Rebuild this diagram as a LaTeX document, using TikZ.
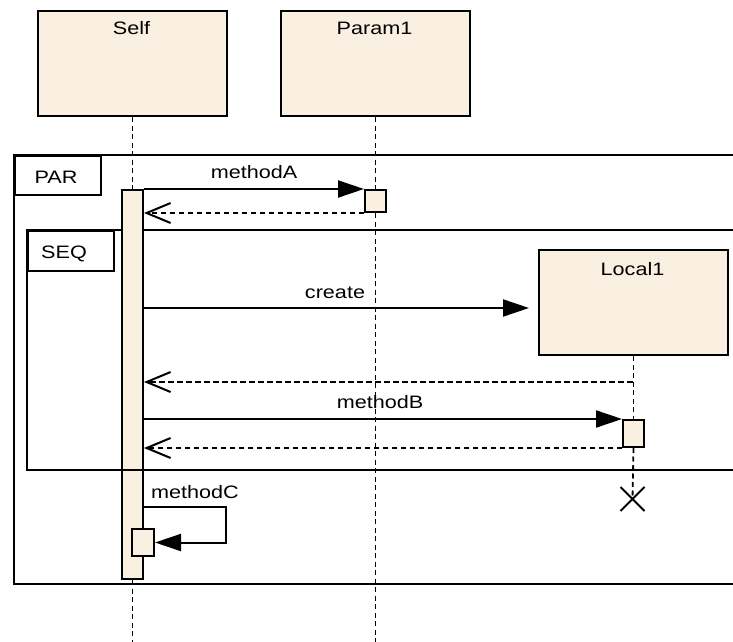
\documentclass[tikz,border=0pt]{standalone}
\usepackage{fontspec}
\newfontfamily\umlfont[FakeStretch=1.2]{Liberation Sans}
\usetikzlibrary{arrows.meta,shapes.misc,calc}
\definecolor{lifefill}{RGB}{250,240,226}
\tikzset{
  obj/.style={draw, fill=lifefill, line width=2pt, inner sep=0pt, anchor=north west,
              minimum width=189pt, minimum height=105pt},
  act/.style={draw, fill=lifefill, line width=2pt, inner sep=0pt, anchor=north west},
  fragment/.style={draw, line width=2pt, inner sep=0pt, outer sep=0pt, anchor=north west},
  fragtab/.style={draw, fill=white, line width=2pt, inner sep=0pt, anchor=north west,
                  minimum width=86pt, minimum height=40pt},
  lbl/.style={font=\umlfont\fontsize{18}{22}\selectfont, inner sep=0pt, anchor=base},
  lifeline/.style={line width=1.8pt, dash pattern=on 5pt off 3.5pt},
  call/.style={line width=2pt, -{Triangle[length=26pt,width=17pt]}},
  reply/.style={line width=2pt, dash pattern=on 5.5pt off 3.5pt,
                -{Straight Barb[length=24pt,width=20pt,line width=2pt]}},
}
\begin{document}
\begin{tikzpicture}[x=1pt,y=-1pt]
\clip (0,0) rectangle (733,642);

% combined fragments
\node[fragment, minimum width=800pt, minimum height=429pt] (par) at (14,155) {};
\node[fragtab, minimum height=39pt] (partab) at (14,155) {};
\node[lbl] (parlbl) at (56,183) {PAR};
\node[fragment, minimum width=800pt, minimum height=240pt] (seq) at (27,230) {};
\node[fragtab] (seqtab) at (27,230) {};
\node[lbl] (seqlbl) at (64,258) {SEQ};

% lifeline heads
\node[obj] (self) at (37,10) {};
\node[lbl] (selflbl) at (131.5,35) {Self};
\node[obj] (param) at (280,10) {};
\node[lbl] (paramlbl) at (374.5,35) {Param1};
\node[obj] (local) at (538,249) {};
\node[lbl] (locallbl) at (632.5,275) {Local1};

% execution occurrences
\node[act, minimum width=21pt, minimum height=389pt] (selfAct) at (121,189) {};
\node[act, minimum width=21pt, minimum height=22pt] (p1Act) at (364,189) {};
\node[act, minimum width=21pt, minimum height=27pt] (l1Act) at (622,419) {};

% destruction of Local1
\node[cross out, draw, line width=2pt, minimum size=22pt, inner sep=0pt] (destroy) at (632.5,499) {};

% lifelines
\draw[lifeline] (self.south) -- (selfAct.north);
\draw[lifeline] (selfAct.south) -- (selfAct.south |- 0,642);
\draw[lifeline] (param.south) -- (p1Act.north);
\draw[lifeline] (p1Act.south) -- (p1Act.south |- 0,642);
\draw[lifeline] (local.south) -- (l1Act.north);
\draw[lifeline] (l1Act.south) -- (destroy.center);

% activation bar of Self drawn over the lifeline
\node[act, minimum width=21pt, minimum height=389pt] at (121,189) {};
\draw[line width=2pt] (seq.south west) -- (seq.south east);
\node[act, minimum width=22pt, minimum height=27pt] (selfAct2) at (131,528) {};

% messages
\draw[call] (selfAct.north east) -- (p1Act.north west);
\node[lbl] (mA) at (254,178) {methodA};
\draw[reply] (p1Act.south west) -- (p1Act.south west -| selfAct.east);

\coordinate (createEnd) at (529,308);
\draw[call] (createEnd -| selfAct.east) -- (createEnd);
\node[lbl] (mCreate) at (335,298) {create};

\coordinate (localReply) at (632.5,382);
\draw[reply] (localReply) -- (localReply -| selfAct.east);

\draw[call] (l1Act.north west -| selfAct.east) -- (l1Act.north west);
\node[lbl] (mB) at (380,408) {methodB};
\draw[reply] (l1Act.south west) -- (l1Act.south west -| selfAct.east);

\coordinate (loopStart) at (142,507);
\draw[call] (loopStart) -- ++(84,0) |- (selfAct2.east);
\node[lbl] (mC) at (195,498) {methodC};
\end{tikzpicture}
\end{document}
